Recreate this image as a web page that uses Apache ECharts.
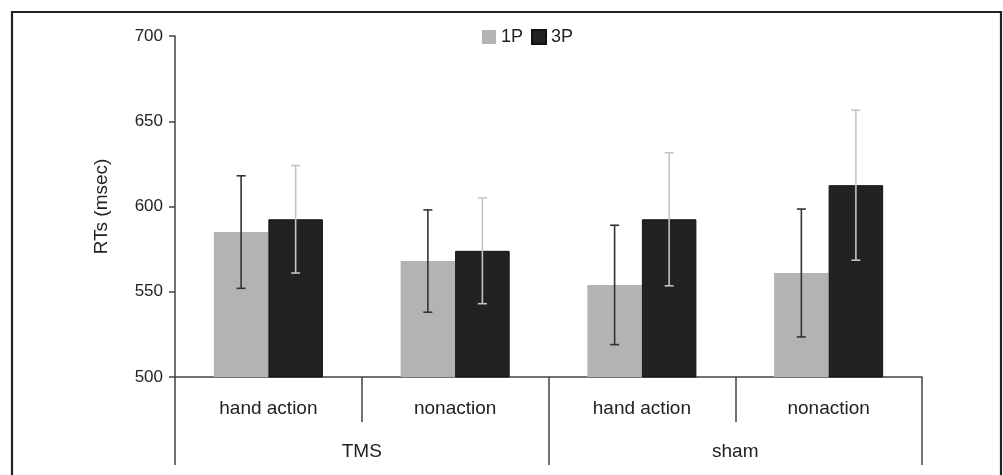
<!DOCTYPE html>
<html>
<head>
<meta charset="utf-8">
<script src="https://cdn.jsdelivr.net/npm/echarts@6/dist/echarts.min.js"></script>
<style>
html, body { margin: 0; padding: 0; background: #fff; }
#chart { width: 1003px; height: 475px; }
</style>
</head>
<body>
<div id="chart"></div>
<script>
var conditions = ['hand action', 'nonaction', 'hand action', 'nonaction'];
var groups = ['TMS', 'sham'];
var yTicks = [500, 550, 600, 650, 700];
var mean1P = [585, 568, 554, 561];
var err1P = [33, 30, 35, 37.5];
var mean3P = [592.5, 574, 592.5, 612.5];
var err3P = [31.5, 31, 39, 44];

var BAR_W = 0.292;

function errorSeries(name, means, errs, side, color) {
	var data = [];
	for (var i = 0; i < means.length; i++) {
		data.push([i, means[i], errs[i]]);
	}
	return {
		name: name,
		type: 'custom',
		z: 10,
		silent: true,
		data: data,
		renderItem: function (params, api) {
			var idx = api.value(0);
			var m = api.value(1);
			var e = api.value(2);
			var cw = api.size([1, 0])[0];
			var x = api.coord([idx, m])[0] + side * cw * BAR_W / 2;
			var yt = api.coord([idx, m + e])[1];
			var yb = api.coord([idx, m - e])[1];
			var cap = 4.5;
			var st = { stroke: color, lineWidth: 1.6 };
			return {
				type: 'group',
				children: [
					{ type: 'line', shape: { x1: x, y1: yt, x2: x, y2: yb }, style: st },
					{ type: 'line', shape: { x1: x - cap, y1: yt, x2: x + cap, y2: yt }, style: st },
					{ type: 'line', shape: { x1: x - cap, y1: yb, x2: x + cap, y2: yb }, style: st }
				]
			};
		}
	};
}

var chart = echarts.init(document.getElementById('chart'), null, { renderer: 'canvas' });
var font = '"Liberation Sans", Arial, sans-serif';

chart.setOption({
	animation: false,
	textStyle: { fontFamily: font },
	grid: { left: 175, right: 81, top: 36, bottom: 98 },
	legend: {
		left: 477,
		top: 23,
		itemWidth: 14,
		itemHeight: 14,
		itemGap: 8,
		icon: 'rect',
		textStyle: { fontSize: 18, color: '#222', padding: [0, 0, 0, 0] },
		data: ['1P', '3P']
	},
	xAxis: [
		{
			type: 'category',
			data: conditions,
			position: 'bottom',
			axisLine: { lineStyle: { color: '#444', width: 1.5 } },
			axisTick: { show: true, interval: 0, length: 45, lineStyle: { color: '#444', width: 1.5 } },
			axisLabel: { interval: 0, margin: 22, fontSize: 19, color: '#222' }
		},
		{
			type: 'category',
			data: groups,
			position: 'bottom',
			axisLine: { show: false },
			axisTick: { show: true, interval: 0, length: 88, lineStyle: { color: '#444', width: 1.5 } },
			axisLabel: { interval: 0, margin: 65, fontSize: 19, color: '#222' }
		}
	],
	yAxis: {
		type: 'value',
		min: yTicks[0],
		max: yTicks[yTicks.length - 1],
		interval: 50,
		name: 'RTs (msec)',
		nameLocation: 'middle',
		nameGap: 64,
		nameTextStyle: { fontSize: 19, color: '#222' },
		axisLine: { show: true, lineStyle: { color: '#444', width: 1.5 } },
		axisTick: { show: true, inside: false, length: 6, lineStyle: { color: '#444', width: 1.5 } },
		axisLabel: { margin: 12, fontSize: 17, color: '#222' },
		splitLine: { show: false }
	},
	graphic: [{
		type: 'polyline',
		shape: { points: [[12, 475], [12, 12], [1001, 12], [1001, 475]] },
		style: { stroke: '#222', lineWidth: 2.2, fill: null }
	}],
	series: [
		{
			name: '1P',
			type: 'bar',
			barWidth: (BAR_W * 100) + '%',
			barGap: '0%',
			data: mean1P,
			itemStyle: { color: '#b3b3b3' }
		},
		{
			name: '3P',
			type: 'bar',
			barWidth: (BAR_W * 100) + '%',
			barGap: '0%',
			data: mean3P,
			itemStyle: { color: '#222', borderColor: '#111', borderWidth: 1 }
		},
		errorSeries('err1P', mean1P, err1P, -1, '#333'),
		errorSeries('err3P', mean3P, err3P, 1, '#c4c4c4')
	]
});
</script>
</body>
</html>
